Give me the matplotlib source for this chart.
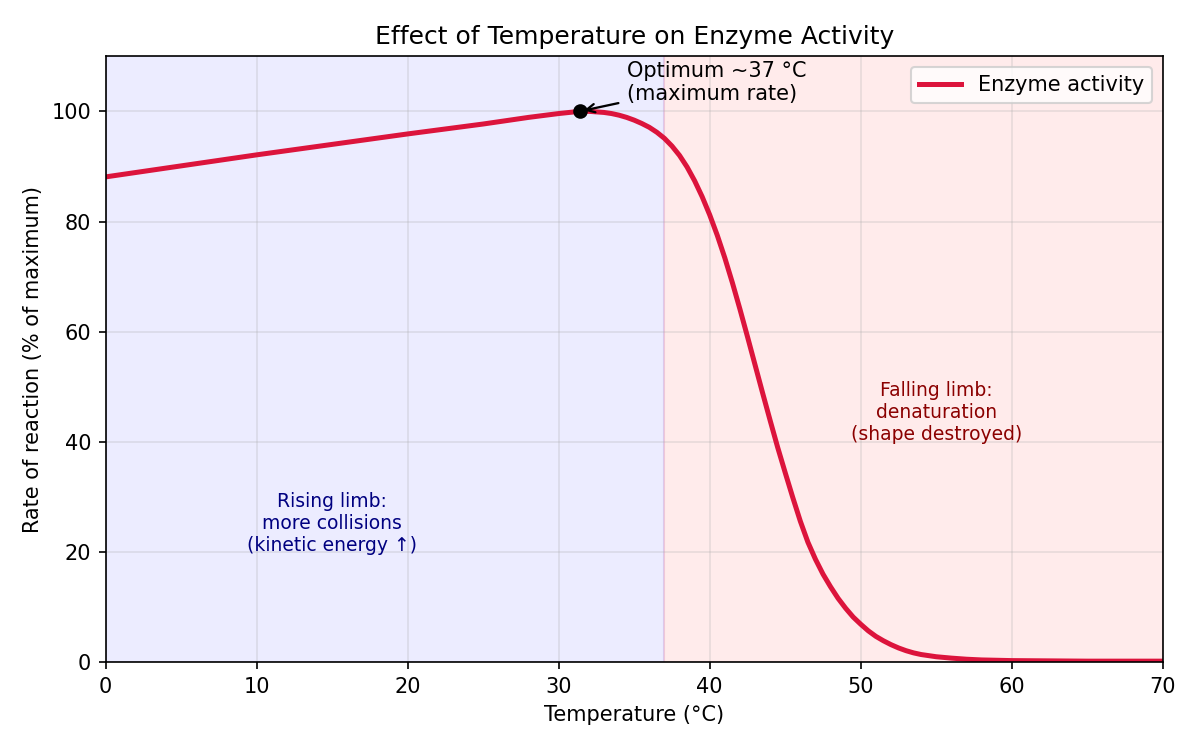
import numpy as np
import matplotlib
matplotlib.use("Agg")
from matplotlib import pyplot as plt

# Values
temperature = [0, 5, 10, 15, 20, 25, 28, 30, 31.4, 32, 33, 33.5, 34, 34.5, 35, 35.5, 36,
               36.5, 37, 37.5, 38, 38.5, 39, 39.5, 40, 40.5, 41, 41.5, 42, 42.5, 43, 43.5,
               44, 44.5, 45, 45.5, 46, 46.5, 47, 47.5, 48, 48.5, 49, 49.5, 50, 50.5,
               51, 51.5, 52, 52.5, 53, 53.5, 54, 54.5, 55, 56, 57, 58, 60, 65, 70]
activity = [88.1, 90.1, 92.1, 94.0, 95.9, 97.7, 98.9, 99.6, 100.0, 100.0, 99.8, 99.6, 99.3, 98.9, 98.4, 97.8, 97.1,
            96.2, 95.1, 93.7, 92.0, 89.9, 87.4, 84.5, 81.2, 77.5, 73.4, 68.9, 64.1, 59.1, 54.0, 48.9,
            43.9, 39.0, 34.4, 29.9, 25.6, 21.8, 18.7, 16.0, 13.7, 11.6, 9.8, 8.2, 6.9, 5.7,
            4.7, 3.9, 3.2, 2.6, 2.1, 1.7, 1.4, 1.2, 1.0, 0.75, 0.55, 0.42, 0.3, 0.2, 0.2]

peak_t = 31.4
peak_rate = 100.0
optimum = 37

fig, ax = plt.subplots(figsize=(8, 5), dpi=150)
fig.subplots_adjust(left=0.088, right=0.969, top=0.925, bottom=0.117)

# shaded regions either side of the optimum
ax.axvspan(0, optimum, color="blue", alpha=0.075)
ax.axvspan(optimum, 70, color="red", alpha=0.08)

ax.plot(temperature, activity, color="crimson", linewidth=2.4, label="Enzyme activity")
ax.plot(peak_t, peak_rate, "o", color="black", markersize=6)

ax.annotate("Optimum ~37 °C\n(maximum rate)", xy=(peak_t, peak_rate), xytext=(34.5, 105.3),
            fontsize=10, va="center", ha="left",
            arrowprops=dict(arrowstyle="->", color="black", lw=1.1))

ax.text(15, 25.2, "Rising limb:\nmore collisions\n(kinetic energy ↑)", ha="center", va="center",
        color="navy", fontsize=9)
ax.text(55, 45.4, "Falling limb:\ndenaturation\n(shape destroyed)", ha="center", va="center",
        color="darkred", fontsize=9)

ax.set_xlim(0, 70)
ax.set_ylim(0, 110)
ax.set_xlabel("Temperature (°C)")
ax.set_ylabel("Rate of reaction (% of maximum)")
ax.set_title("Effect of Temperature on Enzyme Activity", fontsize=12)
ax.grid(True, alpha=0.3)
ax.legend(loc="upper right")

plt.savefig("out.png")
